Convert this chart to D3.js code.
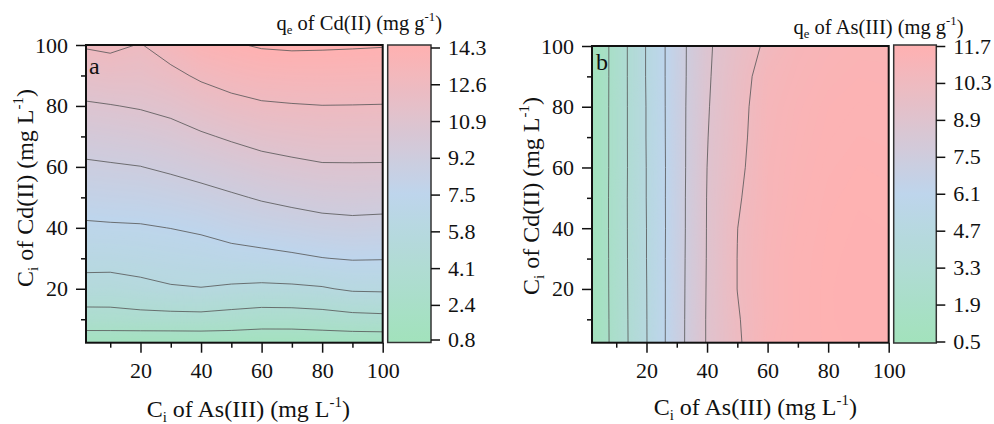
<!DOCTYPE html>
<html>
<head>
<meta charset="utf-8">
<script src="https://cdn.jsdelivr.net/npm/d3@7"></script>
<style>
body { margin: 0; background: #fff; }
svg text { font-family: "Liberation Serif", "Times New Roman", serif; fill: #111; white-space: pre; }
</style>
</head>
<body>
<svg id="chart" width="994" height="424"></svg>
<script>
// grid nodes, mg L-1 (columns: As(III), rows: Cd(II), from 0 upward)
var gridAs = [0, 10, 20, 30, 40, 50, 60, 70, 80, 90, 100];
var gridCd = [0, 10, 20, 30, 40, 50, 60, 70, 80, 90, 100];

// qe of Cd(II), mg g-1
var qeCd = [
    [0.80, 0.75, 0.60, 0.60, 0.60, 0.72, 0.70, 0.70, 0.75, 0.69, 0.65],
    [3.40, 3.44, 3.56, 3.58, 3.61, 3.44, 3.26, 3.27, 3.39, 3.60, 3.70],
    [5.21, 5.18, 5.41, 5.68, 5.77, 5.61, 5.50, 5.55, 5.69, 6.02, 6.06],
    [6.37, 6.36, 6.49, 6.65, 6.77, 6.97, 7.11, 7.28, 7.48, 7.61, 7.58],
    [7.29, 7.35, 7.39, 7.53, 7.73, 8.07, 8.29, 8.48, 8.68, 8.78, 8.72],
    [8.14, 8.23, 8.29, 8.48, 8.73, 9.03, 9.33, 9.56, 9.76, 9.82, 9.78],
    [8.96, 9.07, 9.18, 9.43, 9.73, 10.04, 10.36, 10.58, 10.76, 10.77, 10.76],
    [9.82, 9.95, 10.09, 10.34, 10.72, 11.07, 11.39, 11.55, 11.67, 11.66, 11.66],
    [10.71, 10.84, 11.00, 11.27, 11.74, 12.15, 12.41, 12.50, 12.56, 12.55, 12.53],
    [11.67, 11.85, 11.81, 12.24, 12.80, 13.17, 13.40, 13.47, 13.49, 13.46, 13.43],
    [12.67, 12.85, 12.52, 13.20, 13.90, 14.15, 14.39, 14.46, 14.43, 14.39, 14.34]
];

// qe of As(III), mg g-1
var qeAs = [
    [0.2, 2.42, 4.66, 6.98, 8.99, 10.12, 11.20, 11.45, 11.60, 11.65, 11.62],
    [0.2, 2.44, 4.67, 6.97, 8.99, 10.21, 11.10, 11.45, 11.62, 11.68, 11.66],
    [0.2, 2.46, 4.68, 6.96, 8.97, 10.31, 11.10, 11.45, 11.62, 11.69, 11.68],
    [0.2, 2.47, 4.70, 6.95, 8.95, 10.31, 11.10, 11.45, 11.60, 11.68, 11.66],
    [0.2, 2.48, 4.70, 6.93, 8.94, 10.29, 11.05, 11.40, 11.58, 11.65, 11.63],
    [0.2, 2.48, 4.72, 6.93, 8.93, 10.18, 11.00, 11.35, 11.55, 11.62, 11.60],
    [0.2, 2.46, 4.72, 6.92, 8.90, 10.05, 11.00, 11.30, 11.50, 11.58, 11.55],
    [0.2, 2.46, 4.74, 6.93, 8.86, 9.97, 10.95, 11.25, 11.45, 11.52, 11.50],
    [0.2, 2.46, 4.74, 6.94, 8.81, 9.92, 10.90, 11.20, 11.40, 11.47, 11.45],
    [0.2, 2.45, 4.77, 6.93, 8.76, 9.82, 10.80, 11.10, 11.30, 11.40, 11.38],
    [0.2, 2.45, 4.77, 6.93, 8.73, 9.66, 10.50, 11.00, 11.20, 11.30, 11.30]
];

var cdBarTicks = [0.8, 2.4, 4.1, 5.8, 7.5, 9.2, 10.9, 12.6, 14.3];
var asBarTicks = [0.5, 1.9, 3.3, 4.7, 6.1, 7.5, 8.9, 10.3, 11.7];
var cdLevels = [2.44, 4.13, 5.82, 7.51, 9.20, 10.89, 12.58, 14.27];
var asLevels = [1.9, 3.3, 4.7, 6.1, 7.5, 8.9, 10.3];
var majorTicks = [20, 40, 60, 80, 100];
var minorTicks = [10, 30, 50, 70, 90];

var palette = ['#a2e2bc', '#bed5ec', '#ffb1b1'];
var svg = d3.select('#chart');
var defs = svg.append('defs');

function richText(el, parts, size) {
    var shift = 0;
    parts.forEach(function (p) {
        var t = el.append('tspan').text(p[0]);
        var target = p[1] === 'sub' ? size * 0.22 : p[1] === 'sup' ? -size * 0.4 : 0;
        t.attr('dy', target - shift);
        if (p[1]) t.attr('font-size', size * 0.62);
        shift = target;
    });
}

function styleAxis(sel, size) {
    sel.attr('font-family', null).attr('font-size', size);
    sel.select('.domain').remove();
    sel.selectAll('.tick line').attr('stroke', '#111').attr('stroke-width', 1.5);
    sel.selectAll('.tick text').attr('fill', '#111');
}

function drawPanel(opt) {
    var g = svg.append('g');
    var x = d3.scaleLinear().domain([2, 100]).range([opt.left, opt.right]);
    var y = d3.scaleLinear().domain([2.3, 100]).range([opt.bottom, opt.top]);
    var lo = opt.barTicks[0], hi = opt.barTicks[opt.barTicks.length - 1];
    var color = d3.scaleLinear().domain([lo, (lo + hi) / 2, hi]).range(palette).clamp(true);

    var flat = d3.merge(opt.grid);
    var nx = gridAs.length, ny = gridCd.length;
    var stepX = gridAs[1] - gridAs[0], stepY = gridCd[1] - gridCd[0];
    var path = d3.geoPath(d3.geoTransform({
        point: function (cx, cy) {
            this.stream.point(x(gridAs[0] + (cx - 0.5) * stepX), y(gridCd[0] + (cy - 0.5) * stepY));
        }
    }));

    defs.append('clipPath').attr('id', 'clip-' + opt.id)
        .append('rect')
        .attr('x', opt.left).attr('y', opt.top)
        .attr('width', opt.right - opt.left).attr('height', opt.bottom - opt.top);

    var plot = g.append('g').attr('clip-path', 'url(#clip-' + opt.id + ')');
    var zMin = d3.min(flat), zMax = d3.max(flat);
    plot.append('rect')
        .attr('x', opt.left).attr('y', opt.top)
        .attr('width', opt.right - opt.left).attr('height', opt.bottom - opt.top)
        .attr('fill', color(zMin));

    var shades = d3.range(200).map(function (i) { return zMin + (zMax - zMin) * i / 200; });
    plot.selectAll('path.shade')
        .data(d3.contours().size([nx, ny]).thresholds(shades)(flat))
        .join('path')
        .attr('class', 'shade')
        .attr('d', path)
        .attr('fill', function (d) { return color(d.value); });

    plot.selectAll('path.level')
        .data(d3.contours().size([nx, ny]).thresholds(opt.levels)(flat))
        .join('path')
        .attr('class', 'level')
        .attr('d', path)
        .attr('fill', 'none')
        .attr('stroke', '#555')
        .attr('stroke-opacity', 0.9)
        .attr('stroke-width', 0.9);

    // axes
    var xAxis = g.append('g').attr('transform', 'translate(0,' + opt.bottom + ')');
    xAxis.call(d3.axisBottom(x).tickValues(majorTicks).tickSize(10).tickPadding(10).tickSizeOuter(0));
    styleAxis(xAxis, 22);
    var xMinor = g.append('g').attr('transform', 'translate(0,' + opt.bottom + ')');
    xMinor.call(d3.axisBottom(x).tickValues(minorTicks).tickSize(5).tickFormat(''));
    styleAxis(xMinor, 22);

    var yAxis = g.append('g').attr('transform', 'translate(' + opt.left + ',0)');
    yAxis.call(d3.axisLeft(y).tickValues(majorTicks).tickSize(10).tickPadding(8).tickSizeOuter(0));
    styleAxis(yAxis, 22);
    var yMinor = g.append('g').attr('transform', 'translate(' + opt.left + ',0)');
    yMinor.call(d3.axisLeft(y).tickValues(minorTicks).tickSize(5).tickFormat(''));
    styleAxis(yMinor, 22);

    g.append('rect')
        .attr('x', opt.left).attr('y', opt.top)
        .attr('width', opt.right - opt.left).attr('height', opt.bottom - opt.top)
        .attr('fill', 'none').attr('stroke', '#111').attr('stroke-width', 2);

    g.append('text').attr('x', opt.letterX).attr('y', opt.letterY)
        .attr('font-size', 24).text(opt.id);

    // colour bar
    var cb = d3.scaleLinear().domain([lo, hi]).range([opt.cbTickBottom, opt.cbTickTop]);
    var grad = defs.append('linearGradient').attr('id', 'grad-' + opt.id)
        .attr('x1', 0).attr('y1', 1).attr('x2', 0).attr('y2', 0);
    d3.range(21).forEach(function (k) {
        var py = opt.cbBottom - (opt.cbBottom - opt.cbTop) * k / 20;
        grad.append('stop').attr('offset', k / 20).attr('stop-color', color(cb.invert(py)));
    });
    g.append('rect')
        .attr('x', opt.cbLeft).attr('y', opt.cbTop)
        .attr('width', opt.cbRight - opt.cbLeft).attr('height', opt.cbBottom - opt.cbTop)
        .attr('fill', 'url(#grad-' + opt.id + ')')
        .attr('stroke', '#333').attr('stroke-width', 1.5);
    var cbAxis = g.append('g').attr('transform', 'translate(' + opt.cbRight + ',0)');
    cbAxis.call(d3.axisRight(cb).tickValues(opt.barTicks).tickSize(9).tickPadding(8).tickFormat(d3.format('.1f')));
    styleAxis(cbAxis, 22);

    // titles
    richText(g.append('text').attr('x', opt.cbTitleX).attr('y', opt.cbTitleY)
        .attr('text-anchor', 'end').attr('font-size', 20.5), opt.cbTitle, 20.5);
    richText(g.append('text').attr('text-anchor', 'middle').attr('font-size', 24)
        .attr('transform', 'translate(' + opt.xLabelX + ',' + opt.xLabelY + ')'),
        [['C'], ['i', 'sub'], [' of As(III) (mg L'], ['-1', 'sup'], [')']], 24);
    richText(g.append('text').attr('text-anchor', 'middle').attr('font-size', 24)
        .attr('transform', 'translate(' + opt.yLabelX + ',' + opt.yLabelY + ') rotate(-90)'),
        [['C'], ['i', 'sub'], [' of Cd(II) (mg L'], ['-1', 'sup'], [')']], 24);
}

drawPanel({
    id: 'a', grid: qeCd, levels: cdLevels, barTicks: cdBarTicks,
    left: 86, right: 382.7, top: 45, bottom: 342.7,
    cbLeft: 387.7, cbRight: 431, cbTop: 45, cbBottom: 342.5, cbTickTop: 47.5, cbTickBottom: 339.5,
    cbTitle: [['q'], ['e', 'sub'], [' of Cd(II) (mg g'], ['-1', 'sup'], [')']],
    cbTitleX: 442, cbTitleY: 29.5,
    xLabelX: 248.3, xLabelY: 416.5, yLabelX: 32.5, yLabelY: 188,
    letterX: 89, letterY: 73.5
});

drawPanel({
    id: 'b', grid: qeAs, levels: asLevels, barTicks: asBarTicks,
    left: 592, right: 888.7, top: 46, bottom: 342.7,
    cbLeft: 893.7, cbRight: 936.3, cbTop: 45, cbBottom: 343, cbTickTop: 46, cbTickBottom: 341.5,
    cbTitle: [['q'], ['e', 'sub'], [' of As(III) (mg g'], ['-1', 'sup'], [')']],
    cbTitleX: 963.5, cbTitleY: 33.5,
    xLabelX: 755.3, xLabelY: 415, yLabelX: 538.5, yLabelY: 196,
    letterX: 596, letterY: 70
});
</script>
</body>
</html>
